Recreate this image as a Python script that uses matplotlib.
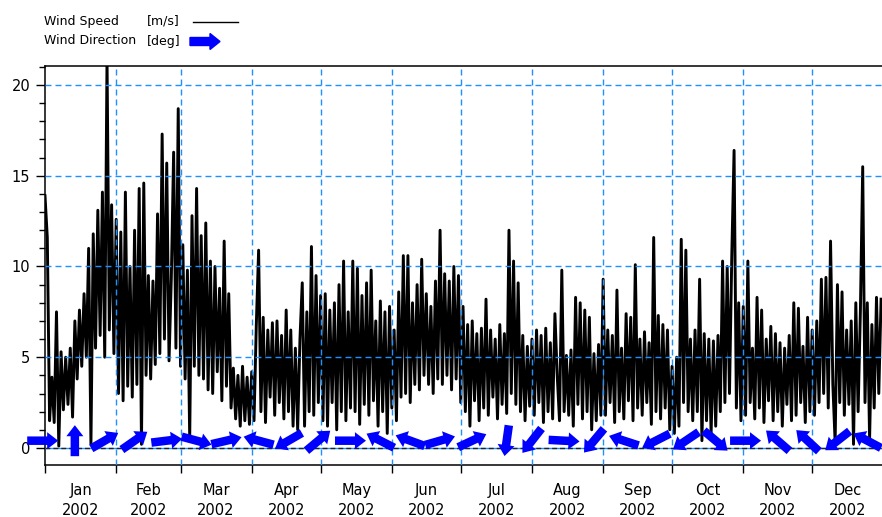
import numpy as np
import matplotlib
matplotlib.use('Agg')
import matplotlib.pyplot as plt
from matplotlib.patches import FancyArrow
from matplotlib.lines import Line2D
from matplotlib.transforms import IdentityTransform

plt.rcParams['font.family'] = 'DejaVu Sans'
plt.rcParams['lines.scale_dashes'] = False

# daily wind speed [m/s], 2002
jan = [13.9, 11.6, 1.5, 3.9, 1.4, 7.5, 0.1, 5.3, 2.1, 5.0, 2.4, 5.5, 1.7, 7.0, 3.8, 7.6,
       4.5, 8.5, 5.0, 11.0, 0.2, 11.8, 5.5, 13.1, 6.2, 14.1, 5.0, 21.5, 6.5, 13.4, 5.2]
feb = [12.6, 3.0, 11.9, 2.6, 14.1, 3.4, 10.0, 2.8, 12.0, 3.5, 14.3, 0.2, 14.6, 4.0,
       9.5, 3.8, 9.2, 4.6, 12.9, 5.2, 17.3, 6.0, 15.7, 4.8, 9.4, 16.3, 5.5, 18.7]
mar = [4.5, 11.2, 3.8, 9.8, 0.5, 12.8, 4.5, 14.3, 4.0, 11.7, 3.8, 12.4, 3.2, 10.3, 3.0,
       10.0, 4.2, 8.8, 2.6, 11.4, 3.4, 8.5, 2.2, 4.4, 1.6, 4.0, 1.2, 4.5, 1.5, 3.9, 1.3]
apr = [4.2, 1.5, 6.8, 10.9, 2.0, 7.2, 1.4, 6.5, 2.8, 6.9, 1.8, 7.0, 2.5, 6.2, 1.6,
       7.6, 2.0, 6.5, 1.2, 5.5, 1.0, 6.0, 9.1, 1.2, 7.5, 2.0, 11.1, 1.8, 9.5, 2.5]
may = [8.4, 1.5, 8.5, 1.2, 7.6, 2.5, 8.0, 1.0, 9.0, 2.0, 10.3, 1.5, 7.5, 2.2, 10.3, 2.0,
       9.9, 1.3, 8.4, 2.4, 9.1, 1.8, 9.8, 2.6, 7.0, 1.2, 8.1, 2.0, 7.5, 0.8, 7.8]
jun = [2.2, 6.5, 1.5, 8.6, 2.8, 10.6, 3.0, 10.6, 2.5, 8.0, 3.5, 9.0, 3.2, 10.4, 4.0,
       8.5, 3.5, 7.8, 3.0, 9.2, 3.8, 12.0, 3.5, 9.6, 4.0, 9.2, 3.2, 10.0, 3.8, 9.5]
jul = [2.5, 7.8, 2.0, 6.8, 1.2, 7.0, 2.6, 6.3, 1.5, 6.6, 2.2, 8.2, 1.8, 6.5, 2.8, 6.0,
       1.6, 6.8, 2.4, 6.3, 1.9, 12.0, 3.0, 10.3, 2.4, 9.1, 2.0, 6.2, 1.5, 5.6, 2.3]
aug = [6.0, 1.8, 6.5, 2.5, 6.2, 1.4, 6.6, 2.0, 5.8, 1.6, 7.4, 4.0, 1.5, 9.8, 2.0, 5.1,
       1.8, 5.4, 1.2, 8.3, 2.4, 8.0, 1.6, 7.6, 2.0, 7.2, 1.0, 5.2, 1.5, 5.7, 1.8]
sep = [9.3, 1.8, 6.5, 2.5, 6.2, 1.4, 8.7, 2.0, 5.5, 1.6, 7.4, 2.6, 7.2, 1.5, 10.1,
       2.2, 6.0, 1.8, 6.4, 2.5, 5.8, 1.3, 11.6, 2.0, 7.3, 1.6, 6.8, 2.2, 6.5, 1.0]
oct_ = [4.5, 0.8, 5.0, 1.2, 11.5, 2.5, 10.9, 2.0, 6.0, 1.5, 6.5, 2.0, 9.3, 0.4, 6.3, 1.5,
        6.0, 0.8, 5.9, 1.2, 6.2, 2.0, 10.3, 2.5, 10.0, 3.0, 10.6, 16.4, 2.2, 8.0, 1.5]
nov = [7.8, 1.8, 10.3, 2.5, 5.5, 1.6, 8.3, 2.2, 7.6, 1.4, 6.0, 2.6, 6.7, 1.5, 6.3,
       2.0, 5.8, 1.2, 5.5, 2.4, 6.2, 1.5, 8.0, 1.8, 7.7, 2.5, 5.6, 1.4, 7.2, 2.0]
dec = [6.5, 1.8, 7.0, 2.5, 9.3, 3.0, 9.4, 2.2, 11.4, 3.5, 0.3, 9.0, 2.5, 8.6, 1.8, 6.5,
       2.4, 7.0, 0.2, 8.0, 2.0, 7.6, 15.5, 2.5, 8.0, 0.5, 6.8, 2.2, 8.3, 3.0, 8.2]

# wind direction arrows: day of year and arrow angle on screen [deg, 0 = pointing right]
arrow_day = [-1, 13, 26, 39, 53, 66, 79, 93, 106, 119, 133, 146, 159, 172,
             186, 201, 212, 226, 239, 252, 266, 279, 292, 305, 319, 332, 345, 358]
arrow_ang = [0, 90, 30, 35, 7, -15, 13, 165, -150, 40, 0, 153, 160, 16,
             25, -98, -128, -3, -130, 162, -153, -146, -40, 0, 139, 137, -142, 152]

month_start = [0, 31, 59, 90, 120, 151, 181, 212, 243, 273, 304, 334, 365]
month_names = ['Jan', 'Feb', 'Mar', 'Apr', 'May', 'Jun',
               'Jul', 'Aug', 'Sep', 'Oct', 'Nov', 'Dec']

speed = np.concatenate([jan, feb, mar, apr, may, jun, jul, aug, sep, oct_, nov, dec])
days = np.arange(len(speed))

grid_blue = '#1E90FF'
W, H = 882, 517

fig = plt.figure(figsize=(W / 100, H / 100), dpi=100)
ax = fig.add_axes([45 / W, 52 / H, 837 / W, 399 / H])
ax.set_xlim(0, 364.4)
ax.set_ylim(-0.94, 21.05)

ax.plot(days, speed, color='black', linewidth=2.1, zorder=2)

# grid on top of the data
for v in [5, 10, 15, 20]:
    ax.axhline(v, color=grid_blue, linewidth=1, linestyle=(0, (4.3, 2.9)), zorder=3)
for m in month_start[1:-1]:
    ax.axvline(m, color=grid_blue, linewidth=1, linestyle=(0, (4.3, 2.9)), zorder=3)
ax.axhline(0, color=grid_blue, linewidth=1, zorder=3)
ax.axhline(0, color='#222222', linewidth=1, linestyle=(0, (3.5, 2.2)), zorder=3.5)

# direction arrows
rad = np.deg2rad(arrow_ang)
ax.quiver(arrow_day, np.full(len(arrow_day), 0.4), 31 * np.cos(rad), 31 * np.sin(rad),
          angles='uv', scale_units='dots', scale=1, units='dots', width=8.5,
          headwidth=2.0, headlength=1.3, headaxislength=1.3, pivot='middle',
          color='blue', zorder=5, clip_on=False)

# axes styling
ax.spines['right'].set_visible(False)
for s in ['left', 'top', 'bottom']:
    ax.spines[s].set_linewidth(1.1)
    ax.spines[s].set_color('black')

ax.set_yticks([0, 5, 10, 15, 20])
ax.set_yticks(np.arange(0, 22, 1), minor=True)
ax.tick_params(axis='y', which='major', length=6.5, width=1, pad=4, labelsize=10.5)
ax.tick_params(axis='y', which='minor', length=4.3, width=1)

ax.set_xticks(month_start[:-1])
ax.set_xticklabels([])
mids = [(month_start[i] + month_start[i + 1]) / 2 for i in range(12)]
ax.set_xticks(mids, labels=[m + '\n2002' for m in month_names], minor=True)
ax.tick_params(axis='x', which='major', length=6, width=1)
ax.tick_params(axis='x', which='minor', length=0, pad=13, labelsize=10.5)
for lbl in ax.get_xticklabels(minor=True):
    lbl.set_linespacing(1.45)

# legend above the plot
fig.text(44 / W, 1 - 21 / H, 'Wind Speed', fontsize=9, va='center', ha='left')
fig.text(147 / W, 1 - 21 / H, '[m/s]', fontsize=9, va='center', ha='left')
fig.text(44 / W, 1 - 41 / H, 'Wind Direction', fontsize=9, va='center', ha='left')
fig.text(147 / W, 1 - 41 / H, '[deg]', fontsize=9, va='center', ha='left')
fig.add_artist(Line2D([193 / W, 238 / W], [1 - 22 / H, 1 - 22 / H],
                      transform=fig.transFigure, color='black', linewidth=1))
fig.add_artist(FancyArrow(190, H - 41.5, 30, 0, width=8, head_width=16, head_length=10,
                          length_includes_head=True, color='blue',
                          transform=IdentityTransform()))

fig.savefig('out.png', dpi=100)
